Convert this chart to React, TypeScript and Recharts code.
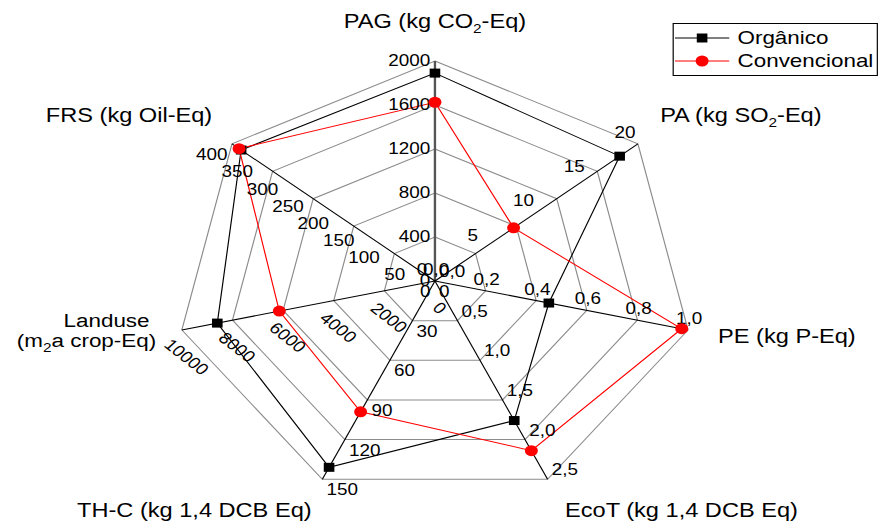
import React from "react";
import { RadarChart, Radar, PolarGrid, PolarAngleAxis, PolarRadiusAxis, Legend } from "recharts";

// axis order goes clockwise from the top
const categories = ["PAG", "PA", "PE", "EcoT", "TH-C", "Landuse", "FRS"];
const axisTitles = [
  "PAG (kg CO₂-Eq)",
  "PA (kg SO₂-Eq)",
  "PE (kg P-Eq)",
  "EcoT (kg 1,4 DCB Eq)",
  "TH-C (kg 1,4 DCB Eq)",
  "Landuse\n(m₂a crop-Eq)",
  "FRS (kg Oil-Eq)",
];
const axisMax = [2000, 20, 1, 2.5, 150, 10000, 400];

const seriesNames = ["Orgânico", "Convencional"];
const organico = [1890, 18.2, 0.45, 1.76, 141, 8600, 382];
const convencional = [1625, 7.75, 0.975, 2.14, 99, 6150, 386];

const pagTicks = [0, 400, 800, 1200, 1600, 2000];
const paTicks = [0, 5, 10, 15, 20];
const peTicks = [0, 0.2, 0.4, 0.6, 0.8, 1.0];
const ecotTicks = [0, 0.5, 1.0, 1.5, 2.0, 2.5];
const thcTicks = [0, 30, 60, 90, 120, 150];
const landuseTicks = [0, 2000, 4000, 6000, 8000, 10000];
const frsTicks = [0, 50, 100, 150, 200, 250, 300, 350, 400];
const axisTicks = [pagTicks, paTicks, peTicks, ecotTicks, thcTicks, landuseTicks, frsTicks];
const decimalAxes = [false, false, true, true, false, false, false];

const gridLevels = [0.2, 0.4, 0.6, 0.8, 1];

// every spoke has its own scale, so values are plotted as a share of the axis maximum
const data = categories.map((name, i) => ({
  name,
  org: organico[i] / axisMax[i],
  conv: convencional[i] / axisMax[i],
}));

// the original figure is stretched horizontally, so the whole chart is too
const STRETCH = 1.18;
const W = 744;
const H = 521;
const CX = 368.6;
const CY = 281;
const R = 220;
const FONT = "'Liberation Sans', Arial, Helvetica, sans-serif";

const tickLayout: { anchor: "start" | "middle" | "end"; dx: number; dy: number; rotate?: number }[] = [
  { anchor: "end", dx: -4, dy: 5 },
  { anchor: "middle", dx: -11, dy: -6 },
  { anchor: "middle", dx: 1, dy: -6 },
  { anchor: "start", dx: 3.5, dy: -4 },
  { anchor: "start", dx: 3.5, dy: 16 },
  { anchor: "middle", dx: 4, dy: 27, rotate: 42.7 },
  { anchor: "end", dx: -3.7, dy: 16.5 },
];

const titleOffsets = [
  [0, -25],
  [81, -17],
  [76, 11],
  [110, 31],
  [-105, 31],
  [-56, -5],
  [-81, -17],
];

const makeRadiusTick = (i: number) => (props: any) => {
  const { x, y, payload } = props;
  const s = tickLayout[i];
  const v = Number(payload.value) * axisMax[i];
  const label = decimalAxes[i] ? v.toFixed(1).replace(".", ",") : String(Math.round(v));
  if (s.rotate) {
    return (
      <text
        transform={`translate(${x + s.dx},${y + s.dy}) rotate(${s.rotate})`}
        textAnchor="middle"
        dy={5.5}
        fontSize={16}
        fill="#000"
      >
        {label}
      </text>
    );
  }
  return (
    <text x={x + s.dx} y={y + s.dy} textAnchor={s.anchor} fontSize={16} fill="#000">
      {label}
    </text>
  );
};

const withSubscript = (line: string) => {
  const parts = line.split("₂");
  const out: React.ReactNode[] = [];
  parts.forEach((p, k) => {
    if (k > 0) {
      out.push(
        <tspan key={`s${k}`} fontSize={13} dy={5}>
          2
        </tspan>
      );
      out.push(
        <tspan key={`p${k}`} dy={-5}>
          {p}
        </tspan>
      );
    } else {
      out.push(<tspan key={`p${k}`}>{p}</tspan>);
    }
  });
  return out;
};

const renderTitle = (props: any) => {
  const { x, y, index } = props;
  const [dx, dy] = titleOffsets[index];
  const lines = axisTitles[index].split("\n");
  if (lines.length > 1) {
    return (
      <g>
        <text x={x + dx} y={y + dy} textAnchor="middle" fontSize={19} fill="#000">
          {withSubscript(lines[0])}
        </text>
        <text x={x + dx - 17} y={y + dy + 20} textAnchor="middle" fontSize={19} fill="#000">
          {withSubscript(lines[1])}
        </text>
      </g>
    );
  }
  return (
    <text x={x + dx} y={y + dy} textAnchor="middle" fontSize={20} fill="#000">
      {withSubscript(lines[0])}
    </text>
  );
};

const SquareDot = (props: any) => {
  const { cx, cy } = props;
  return <rect x={cx - 4.5} y={cy - 4.5} width={9} height={9} fill="#000" />;
};

const CircleDot = (props: any) => {
  const { cx, cy } = props;
  return <circle cx={cx} cy={cy} r={5.5} fill="#ff0000" />;
};

const renderLegend = (props: any) => {
  const payload: any[] = props.payload || [];
  const entries = seriesNames.map((n) => payload.find((p) => p.value === n)).filter(Boolean);
  return (
    <div
      style={{
        border: "1px solid #000",
        background: "#fff",
        width: 172,
        padding: "2px 0 3px 0",
        fontSize: 19,
        fontFamily: FONT,
        color: "#000",
      }}
    >
      {entries.map((entry: any) => (
        <div key={entry.value} style={{ display: "flex", alignItems: "center", height: 23 }}>
          <svg width={50} height={14} style={{ flex: "none" }}>
            <line x1={1} x2={47} y1={7} y2={7} stroke={entry.color} strokeWidth={1} />
            {entry.value === seriesNames[0] ? (
              <rect x={19.5} y={2.5} width={9} height={9} fill={entry.color} />
            ) : (
              <circle cx={24} cy={7} r={5.5} fill={entry.color} />
            )}
          </svg>
          <span style={{ marginLeft: 4 }}>{entry.value}</span>
        </div>
      ))}
    </div>
  );
};

export default function App() {
  return (
    <div
      style={{
        position: "absolute",
        left: 0,
        top: 0,
        width: W,
        height: H,
        background: "#fff",
        fontFamily: FONT,
        transform: `scaleX(${STRETCH})`,
        transformOrigin: "0 0",
      }}
    >
      <RadarChart
        width={W}
        height={H}
        data={data}
        cx={CX}
        cy={CY}
        outerRadius={R}
        margin={{ top: 0, right: 0, bottom: 0, left: 0 }}
      >
        <PolarGrid gridType="polygon" radialLines={false} stroke="#8c8c8c" strokeWidth={1} />
        <PolarAngleAxis dataKey="name" axisLine={false} tickLine={false} tick={renderTitle} />
        <PolarRadiusAxis
          radiusAxisId={0}
          angle={90}
          type="number"
          domain={[0, 1]}
          ticks={gridLevels}
          allowDataOverflow
          axisLine={false}
          tick={false}
          tickLine={false}
        />
        {categories.map((c, i) => (
          <PolarRadiusAxis
            key={c}
            radiusAxisId={`axis-${i}`}
            angle={90 - (i * 360) / categories.length}
            type="number"
            domain={[0, 1]}
            ticks={axisTicks[i].map((t) => t / axisMax[i])}
            allowDataOverflow
            axisLine={{ stroke: i === 0 ? "#555" : "#000", strokeWidth: i === 0 ? 2 : 1 }}
            tickLine={false}
            tick={makeRadiusTick(i)}
          />
        ))}
        <Radar
          name={seriesNames[0]}
          dataKey="org"
          stroke="#000"
          strokeWidth={1}
          fill="none"
          fillOpacity={0}
          dot={SquareDot}
          isAnimationActive={false}
        />
        <Radar
          name={seriesNames[1]}
          dataKey="conv"
          stroke="#ff0000"
          strokeWidth={1}
          fill="none"
          fillOpacity={0}
          dot={CircleDot}
          isAnimationActive={false}
        />
        <Legend
          layout="vertical"
          align="right"
          verticalAlign="top"
          content={renderLegend}
          wrapperStyle={{ left: 570, top: 23, width: 174 }}
        />
      </RadarChart>
    </div>
  );
}
